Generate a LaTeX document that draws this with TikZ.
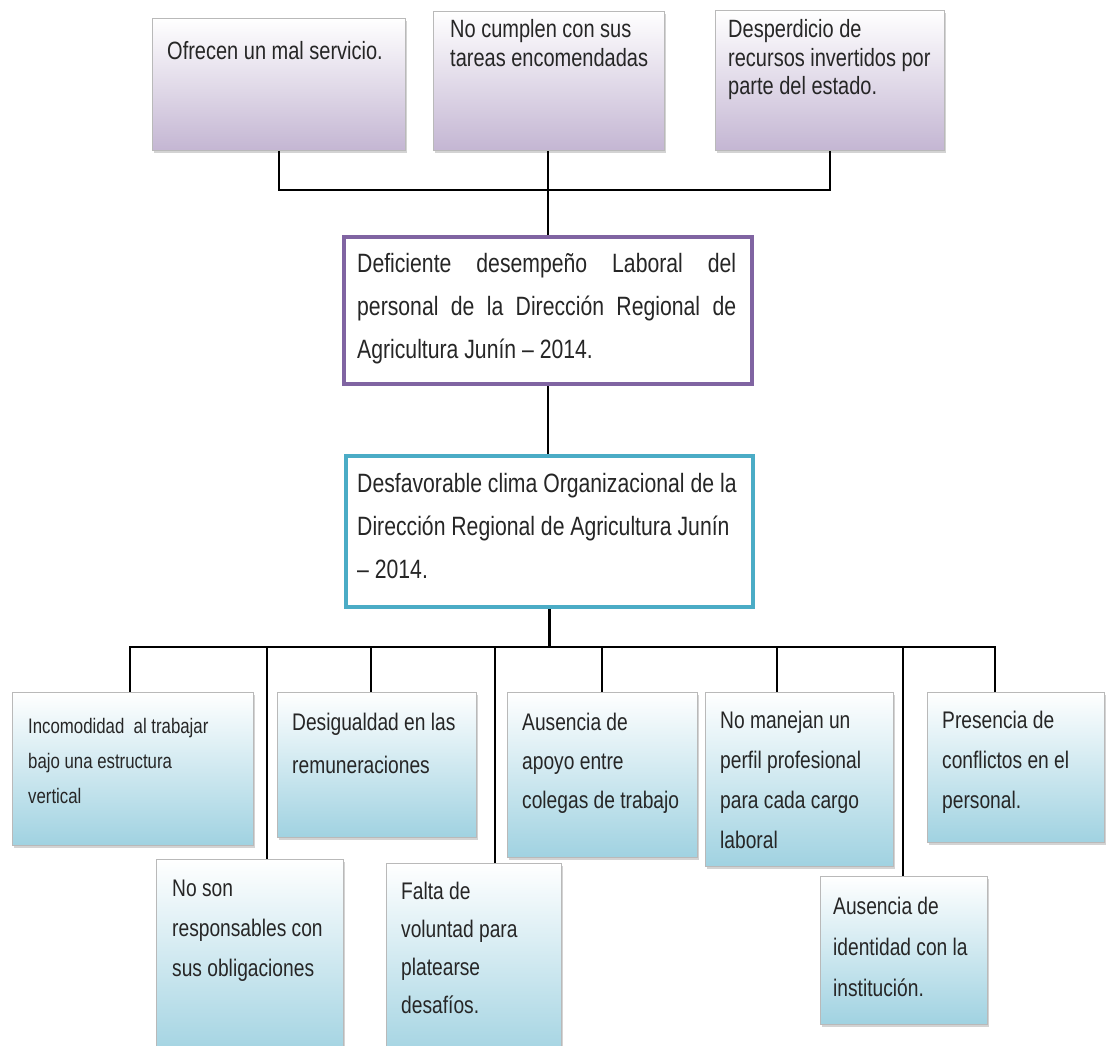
\documentclass[tikz,border=0pt]{standalone}
\usepackage{fontspec}
\setmainfont{Liberation Sans}[FakeStretch=0.8]
\usetikzlibrary{shadows}
\definecolor{lila}{RGB}{196,182,211}
\definecolor{celeste}{RGB}{160,210,225}
\definecolor{morado}{RGB}{128,100,162}
\definecolor{aqua}{RGB}{75,172,198}
\hyphenpenalty=10000
\begin{document}
\begin{tikzpicture}[x=1pt, y=-1pt,
    caja/.style={anchor=north west, inner sep=0pt, draw=gray!55, line width=0.8pt,
        drop shadow={shadow xshift=1.5pt, shadow yshift=-3pt, opacity=0.35}},
    efecto/.style={caja, top color=white, bottom color=lila},
    causa/.style={caja, top color=white, bottom color=celeste},
    problema/.style={anchor=north west, inner sep=0pt, fill=white, line width=4pt},
    texto/.style={anchor=base west, inner sep=0pt, text=black!85},
    conector/.style={line width=2.5pt}]
    \useasboundingbox (0,0) rectangle (1106,1046);
    % efectos
    \node[efecto, minimum width=253pt, minimum height=132pt] (e1) at (152,18) {};
    \node[efecto, minimum width=231pt, minimum height=139pt] (e2) at (433,11) {};
    \node[efecto, minimum width=229pt, minimum height=140pt] (e3) at (715,10) {};
    \node[texto, font=\fontsize{25}{28.5}\selectfont] (te1) at (167,60)
        {\parbox[t]{235pt}{\raggedright Ofrecen un mal servicio.}};
    \node[texto, font=\fontsize{25}{28.5}\selectfont] (te2) at (450,38)
        {\parbox[t]{210pt}{\raggedright No cumplen con sus\\tareas encomendadas}};
    \node[texto, font=\fontsize{25}{28.5}\selectfont] (te3) at (728,38)
        {\parbox[t]{215pt}{\raggedright Desperdicio de\\recursos invertidos por\\parte del estado.}};
    % problema y causa central
    \node[problema, draw=morado, minimum width=408pt, minimum height=147pt] (p1) at (342,235) {};
    \node[problema, draw=aqua, minimum width=407pt, minimum height=151pt] (p2) at (344,454) {};
    \node[texto, font=\fontsize{26.5}{43}\selectfont] (tp1) at (357,272)
        {\parbox[t]{379pt}{Deficiente desempeño Laboral del\linebreak
        personal de la Dirección Regional de\linebreak Agricultura Junín – 2014.}};
    \node[texto, font=\fontsize{26.5}{43}\selectfont] (tp2) at (357,492)
        {\parbox[t]{390pt}{\raggedright Desfavorable clima Organizacional de la\\
        Dirección Regional de Agricultura Junín\\– 2014.}};
    % causas
    \node[causa, minimum width=241pt, minimum height=153pt] (cA) at (12,692) {};
    \node[causa, minimum width=187pt, minimum height=200pt] (cB) at (156,859) {};
    \node[causa, minimum width=199pt, minimum height=145pt] (cC) at (277,692) {};
    \node[causa, minimum width=175pt, minimum height=200pt] (cD) at (386,863) {};
    \node[causa, minimum width=190pt, minimum height=165pt] (cE) at (507,692) {};
    \node[causa, minimum width=188pt, minimum height=174pt] (cF) at (705,692) {};
    \node[causa, minimum width=167pt, minimum height=148pt] (cG) at (820,876) {};
    \node[causa, minimum width=177pt, minimum height=150pt] (cH) at (927,692) {};
    \node[texto, font=\fontsize{21}{35}\selectfont] (tA) at (28,733)
        {\parbox[t]{225pt}{\raggedright Incomodidad\ \ al trabajar\\bajo una estructura\\vertical}};
    \node[texto, font=\fontsize{24}{40}\selectfont] (tB) at (172,896)
        {\parbox[t]{170pt}{\raggedright No son\\responsables con\\sus obligaciones}};
    \node[texto, font=\fontsize{24}{43}\selectfont] (tC) at (292,730)
        {\parbox[t]{180pt}{\raggedright Desigualdad en las\\remuneraciones}};
    \node[texto, font=\fontsize{24}{38}\selectfont] (tD) at (401,899)
        {\parbox[t]{160pt}{\raggedright Falta de\\voluntad para\\platearse\\desafíos.}};
    \node[texto, font=\fontsize{24}{39}\selectfont] (tE) at (522,730)
        {\parbox[t]{175pt}{\raggedright Ausencia de\\apoyo entre\\colegas de trabajo}};
    \node[texto, font=\fontsize{24}{40}\selectfont] (tF) at (720,728)
        {\parbox[t]{172pt}{\raggedright No manejan un\\perfil profesional\\para cada cargo\\laboral}};
    \node[texto, font=\fontsize{24}{41}\selectfont] (tG) at (833,914)
        {\parbox[t]{152pt}{\raggedright Ausencia de\\identidad con la\\institución.}};
    \node[texto, font=\fontsize{24}{40}\selectfont] (tH) at (942,728)
        {\parbox[t]{162pt}{\raggedright Presencia de\\conflictos en el\\personal.}};
    % conectores
    \draw[conector] (e1.south) -- ++(0,39) -| (e3.south);
    \draw[conector] (p1.north) -- (p1.north |- e2.south);
    \draw[conector] (p1.south) -- (p1.south |- p2.north);
    \coordinate (b1) at (130,647);
    \coordinate (b2) at (267,647);
    \coordinate (b3) at (371,647);
    \coordinate (b4) at (495,647);
    \coordinate (b5) at (602,647);
    \coordinate (b6) at (777,647);
    \coordinate (b7) at (903,647);
    \coordinate (b8) at (995,647);
    \draw[conector] (p2.south) -- (p2.south |- b1);
    \draw[conector, line cap=rect] (b1) -- (b8);
    \foreach \b/\c in {b1/cA, b2/cB, b3/cC, b4/cD, b5/cE, b6/cF, b7/cG, b8/cH}{
        \draw[conector] (\b) -- (\b |- \c.north);
    }
\end{tikzpicture}
\end{document}
